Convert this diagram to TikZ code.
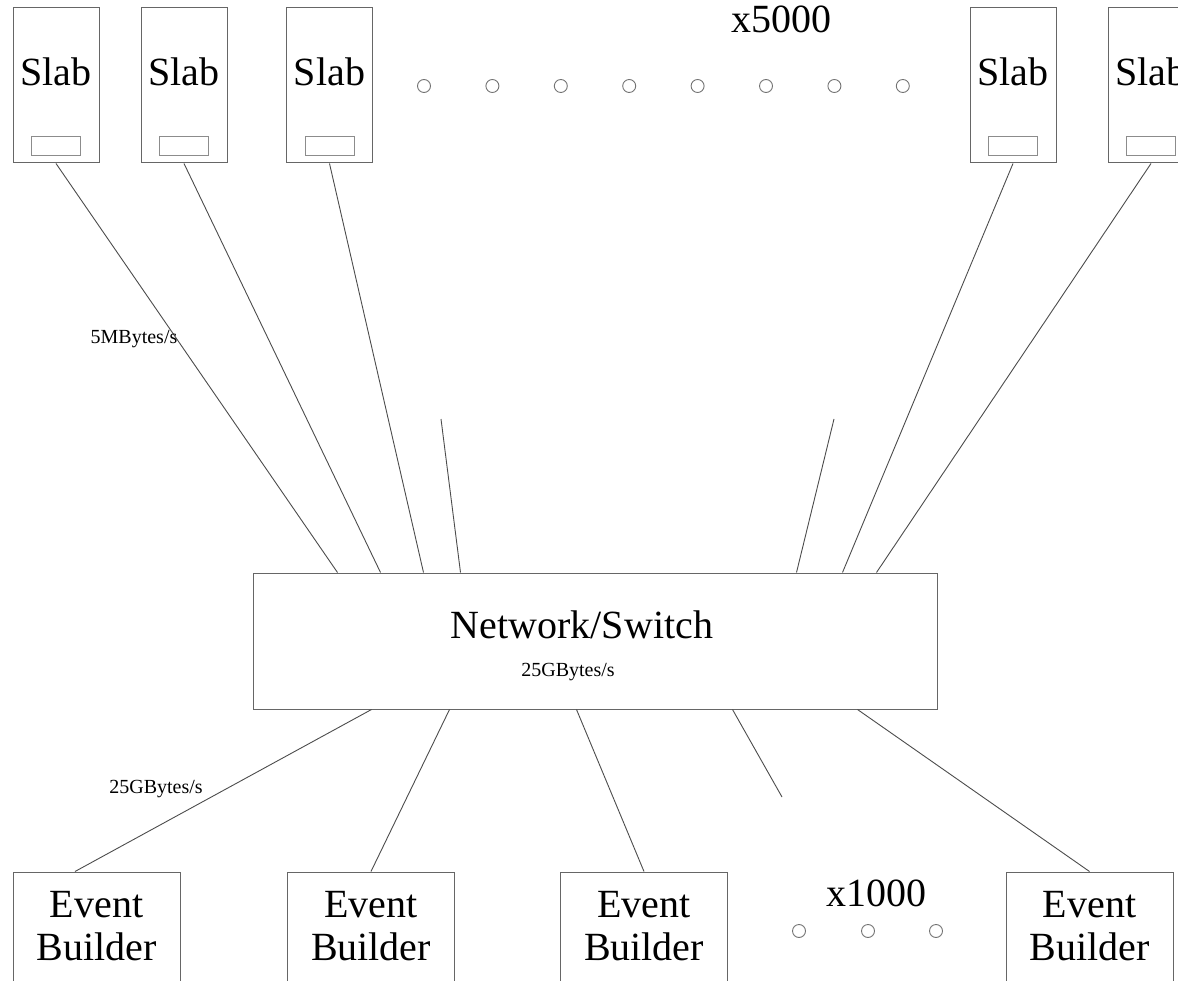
\documentclass[tikz,border=0pt]{standalone}
\usepackage{fontspec}
\setmainfont{Liberation Serif}
\tikzset{
  unitbox/.style={draw=black!60, line width=1pt, minimum width=86pt, minimum height=155pt, inner sep=0pt},
  portbox/.style={draw=black!45, line width=1pt, minimum width=49pt, minimum height=19pt, inner sep=0pt},
  ebbox/.style={draw=black!60, line width=1pt, minimum width=167pt, minimum height=140pt, inner sep=0pt},
  bigtxt/.style={font=\fontsize{40}{43}\selectfont, inner sep=0pt, align=center},
  smalltxt/.style={font=\fontsize{20}{22}\selectfont, inner sep=0pt},
  link/.style={draw=black!70, line width=0.9pt},
  dotmark/.style={circle, draw=black!55, line width=0.9pt, minimum size=13pt, inner sep=0pt},
}
\begin{document}
\begin{tikzpicture}[x=1pt,y=-1pt]
    \useasboundingbox (0,0) rectangle (1178,981);
    \clip (0,0) rectangle (1178,981);
    % slabs along the top
    \foreach \n/\x in {1/56,2/184,3/329.5,4/1013,5/1151}{
        \node[unitbox] (s\n) at (\x,85.5) {};
        \node[portbox] (p\n) at ([yshift=17.5pt]s\n.south) {};
        \node[bigtxt, anchor=base] (l\n) at (s\n.center) {Slab};
    }
    \foreach \k in {0,...,7}
        \node[dotmark] (d\k) at ({424+68.4*\k},86) {};
    \node[bigtxt, anchor=base] (nslab) at (781,33) {x5000};
    % switch
    \node[draw=black!60, line width=1pt, minimum width=684pt, minimum height=136pt] (sw) at (595,641) {};
    \node[bigtxt, anchor=base] (swname) at (582,638) {Network/Switch};
    \node[smalltxt, anchor=base] (swrate) at (568,676) {25GBytes/s};
    % slab links
    \draw[link] (s1.south) -- ([xshift=85pt]sw.north west);
    \draw[link] (s2.south) -- ([xshift=128pt]sw.north west);
    \draw[link] (s3.south) -- ([xshift=171pt]sw.north west);
    \draw[link] (s4.south) -- ([xshift=590pt]sw.north west);
    \draw[link] (s5.south) -- ([xshift=624pt]sw.north west);
    \coordinate (u1) at (441,419);
    \coordinate (u2) at (834,419);
    \draw[link] (u1) -- ([xshift=208pt]sw.north west);
    \draw[link] (u2) -- ([xshift=544pt]sw.north west);
    \node[smalltxt, anchor=base] (inrate) at (134,344) {5MBytes/s};
    % event builders
    \foreach \n/\x in {1/96.5,2/371,3/644,4/1089.5}{
        \node[ebbox] (e\n) at (\x,942) {};
        \node[bigtxt, anchor=north] (t\n) at ([yshift=-19.5pt]e\n.north) {Event\\Builder};
    }
    \foreach \k/\x in {0/799,1/868,2/936}
        \node[dotmark] (b\k) at (\x,931) {};
    \node[bigtxt, anchor=base] (nev) at (876,906) {x1000};
    % builder links
    \draw[link] ([xshift=119pt]sw.south west) -- ([xshift=-21.5pt]e1.north);
    \draw[link] ([xshift=197pt]sw.south west) -- (e2.north);
    \draw[link] ([xshift=324pt]sw.south west) -- (e3.north);
    \draw[link] ([xshift=605pt]sw.south west) -- (e4.north);
    \coordinate (u3) at (782,797);
    \draw[link] ([xshift=480pt]sw.south west) -- (u3);
    \node[smalltxt, anchor=base] (outrate) at (156,793) {25GBytes/s};
\end{tikzpicture}
\end{document}
